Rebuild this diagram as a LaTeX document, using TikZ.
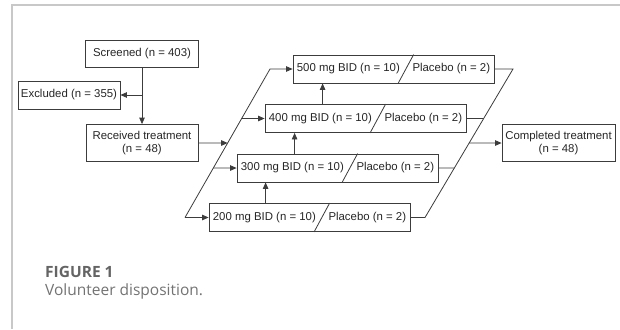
\documentclass[tikz,border=0pt]{standalone}
\usepackage{fontspec}
\setmainfont{Liberation Sans}
\newfontfamily\capfont{Open Sans}
\usepackage{xcolor}
\usetikzlibrary{positioning,calc,arrows.meta}

\definecolor{boxgray}{RGB}{60,60,60}
\definecolor{framegray}{RGB}{200,200,200}
\definecolor{figgray}{RGB}{100,100,100}
\definecolor{capgray}{RGB}{115,115,115}

\begin{document}
\begin{tikzpicture}[x=1pt, y=-1pt,
    box/.style={draw=boxgray, line width=0.8pt, text=black!85, inner sep=0pt,
        font=\fontsize{11.4}{13.3}\selectfont},
    dose/.style={box, minimum width=201pt, minimum height=28pt},
    ln/.style={draw=boxgray, line width=0.8pt},
    arr/.style={ln, -{Triangle[length=6.5pt, width=5.5pt]}},
    captext/.style={anchor=base west, inner sep=0pt}]
    \useasboundingbox (0,0) rectangle (620,329);

    % Frame
    \draw[framegray, line width=1.5pt] (620,5) -- (12,5) -- (12,329);

    % Enrolment
    \node[box, minimum width=113pt, minimum height=27pt] (scr) at (142,53.5) {Screened (n = 403)};
    \node[box, minimum width=102pt, minimum height=28pt] (exc) at (69,95) {Excluded (n = 355)};
    \node[box, minimum width=112pt, minimum height=37pt, align=center] (rec) at (142,143) {Received treatment\\(n = 48)};
    \node[box, minimum width=113pt, minimum height=37pt, align=center] (cmp) at (558.5,143) {Completed treatment\\(n = 48)};

    % Dose groups
    \node[dose] (d500) at (393.5,69) {500 mg BID (n = 10)\hspace{12.7pt}Placebo (n = 2)};
    \node[dose] (d400) at (365.5,118.5) {400 mg BID (n = 10)\hspace{12.7pt}Placebo (n = 2)};
    \node[dose] (d300) at (337.5,168) {300 mg BID (n = 10)\hspace{12.7pt}Placebo (n = 2)};
    \node[dose] (d200) at (309.5,217.5) {200 mg BID (n = 10)\hspace{12.7pt}Placebo (n = 2)};
    \foreach \d in {d500,d400,d300,d200}
        \draw[ln] ($(\d.south west)+(105.5,0)$) -- ($(\d.north west)+(121,0)$);

    % Slanted bars
    \coordinate (lt) at (270,69);
    \coordinate (lb) at (185,217.5);
    \coordinate (rt) at (513,69);
    \coordinate (rb) at (425,217.5);

    % Connections
    \draw[arr] (scr) -- (rec);
    \draw[arr] (scr.south |- exc.east) -- (exc);
    \draw[arr] (rec) -- (intersection of rec.east--cmp.west and lt--lb);
    \draw[arr] (lb) -- (lt) -- (d500);
    \draw[arr] (lb) -- (d200);
    \draw[arr] (intersection of lt--lb and d400.west--d400.east) -- (d400);
    \draw[arr] (intersection of lt--lb and d300.west--d300.east) -- (d300);
    \draw[ln] (d500) -- (rt) -- (rb) -- (d200);
    \draw[ln] (d400) -- (intersection of rt--rb and d400.west--d400.east);
    \draw[ln] (d300) -- (intersection of rt--rb and d300.west--d300.east);
    \draw[arr] (intersection of rt--rb and rec.east--cmp.west) -- (cmp);

    % Escalation
    \draw[arr] ($(d200.north west)+(57,0)$) coordinate (v2) -- (v2 |- d300.south);
    \draw[arr] ($(d300.north west)+(58,0)$) coordinate (v3) -- (v3 |- d400.south);
    \draw[arr] ($(d400.north west)+(58,0)$) coordinate (v4) -- (v4 |- d500.south);

    % Caption
    \node[captext, text=figgray, font=\capfont\bfseries\fontsize{15.5}{18}\selectfont] (fig) at (45,277) {FIGURE 1};
    \node[captext, text=capgray, font=\capfont\fontsize{15.5}{18}\selectfont] (title) at (45,295.5) {Volunteer disposition.};
\end{tikzpicture}
\end{document}
